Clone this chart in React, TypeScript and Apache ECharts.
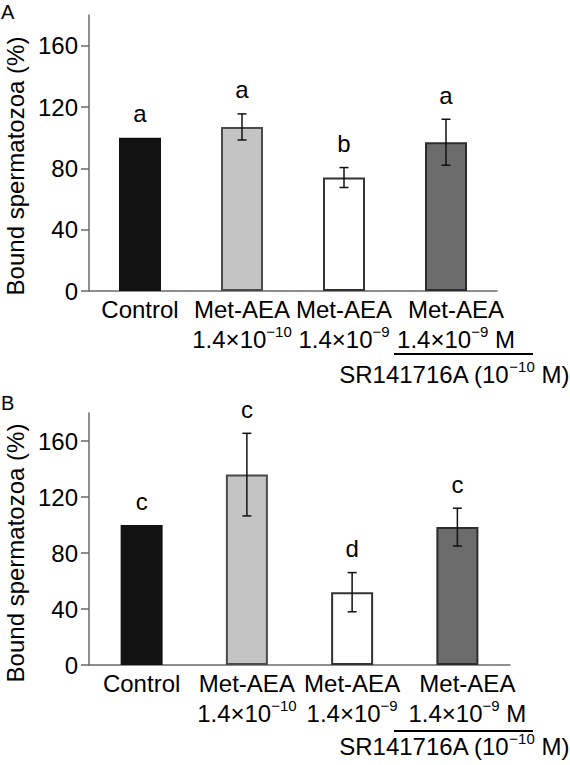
import React, { useEffect, useRef } from 'react';
import * as echarts from 'echarts';

// categories shared by both panels
const categories = ['Control', 'Met-AEA 1.4×10−10', 'Met-AEA 1.4×10−9', 'Met-AEA 1.4×10−9 M + SR'];
const xLabels = [
  'Control',
  'Met-AEA\n{n|1.4×10}{sup|−10}',
  'Met-AEA\n{n|1.4×10}{sup|−9}',
  'Met-AEA\n{n|1.4×10}{sup|−9}{n| M}',
];

// panel A
const meansA = [100, 107, 74, 97];
const errA = [0, 8.5, 6.5, 15];
const lettersA = ['a', 'a', 'b', 'a'];

// panel B
const meansB = [100, 136, 52, 98.5];
const errB = [0, 29.5, 14, 13.5];
const lettersB = ['c', 'c', 'd', 'c'];

const yTicks = [0, 40, 80, 120, 160];

const FONT = '"Liberation Sans", Arial, Helvetica, sans-serif';
const FS = 24;
const fills = ['#121212', '#c4c4c4', '#ffffff', '#6c6c6c'];
const borders = ['#121212', '#4a4a4a', '#333333', '#2c2c2c'];

const richStyles = {
  n: { fontSize: FS, lineHeight: 30, color: '#000', fontFamily: FONT },
  sup: { fontSize: 15, lineHeight: 15, verticalAlign: 'top', color: '#000', fontFamily: FONT },
};

const App: React.FC = () => {
  const chartRef = useRef<HTMLDivElement>(null);

  useEffect(() => {
    if (!chartRef.current) return;
    const chart = echarts.init(chartRef.current, undefined, { renderer: 'svg' });

    const makeX = (gridIndex: number) => ({
      type: 'category',
      gridIndex,
      data: categories.map((c, i) =>
        i === 3 ? { value: c, textStyle: { padding: [0, 0, 0, 20] } } : c
      ),
      axisLine: { lineStyle: { color: '#6a6a6a', width: 1.5 } },
      axisTick: { show: false },
      axisLabel: {
        interval: 0,
        margin: 3,
        fontSize: FS,
        lineHeight: 30,
        color: '#000',
        fontFamily: FONT,
        formatter: (_v: string, i: number) => xLabels[i],
        rich: richStyles,
      },
    });

    const makeY = (gridIndex: number) => ({
      type: 'value',
      gridIndex,
      min: 0,
      max: 180,
      interval: 40,
      axisLine: { show: true, lineStyle: { color: '#6a6a6a', width: 1.5 } },
      axisTick: { show: true, length: 8, customValues: yTicks, lineStyle: { color: '#6a6a6a', width: 1.5 } },
      axisLabel: { customValues: yTicks, margin: 11, fontSize: FS, color: '#000', fontFamily: FONT },
      splitLine: { show: false },
    });

    const barSeries = (idx: number, means: number[]) => ({
      type: 'bar',
      xAxisIndex: idx,
      yAxisIndex: idx,
      barWidth: 42,
      data: means.map((v, i) => ({
        value: v,
        itemStyle: { color: fills[i], borderColor: borders[i], borderWidth: i === 0 ? 0 : 2 },
      })),
    });

    const errSeries = (idx: number, means: number[], errs: number[], letters: string[]) => ({
      type: 'custom',
      xAxisIndex: idx,
      yAxisIndex: idx,
      z: 5,
      data: means.map((m, i) => [i, m, errs[i]]),
      renderItem: (params: any, api: any) => {
        const i = api.value(0);
        const m = api.value(1);
        const e = api.value(2);
        const top = api.coord([i, m + e]);
        const bot = api.coord([i, m - e]);
        const style = { stroke: '#111', lineWidth: 1.5 };
        const children: any[] = [];
        if (e > 0) {
          children.push(
            { type: 'line', shape: { x1: top[0], y1: top[1], x2: bot[0], y2: bot[1] }, style },
            { type: 'line', shape: { x1: top[0] - 4.5, y1: top[1], x2: top[0] + 4.5, y2: top[1] }, style },
            { type: 'line', shape: { x1: bot[0] - 4.5, y1: bot[1], x2: bot[0] + 4.5, y2: bot[1] }, style }
          );
        }
        children.push({
          type: 'text',
          x: top[0],
          y: top[1] - 24,
          style: {
            text: letters[params.dataIndex],
            fill: '#000',
            font: `${FS}px ${FONT}`,
            align: 'center',
            verticalAlign: 'middle',
          },
        });
        return { type: 'group', children };
      },
    });

    const panelGraphics = (letter: string, top: number, axisMid: number, lineY: number, srY: number) => [
      {
        type: 'text',
        left: 1,
        top,
        style: { text: letter, fill: '#000', font: `20px ${FONT}` },
      },
      {
        type: 'text',
        x: 15,
        y: axisMid,
        rotation: Math.PI / 2,
        style: {
          text: 'Bound spermatozoa (%)',
          fill: '#000',
          font: `${FS}px ${FONT}`,
          align: 'center',
          verticalAlign: 'middle',
        },
      },
      {
        type: 'line',
        shape: { x1: 394, y1: lineY, x2: 533, y2: lineY },
        style: { stroke: '#000', lineWidth: 2 },
      },
      {
        type: 'text',
        x: 454,
        y: srY,
        style: {
          text: '{n|SR141716A (10}{sup|−10}{n| M)}',
          rich: richStyles,
          align: 'center',
          verticalAlign: 'middle',
        },
      },
    ];

    chart.setOption({
      animation: false,
      textStyle: { fontFamily: FONT },
      grid: [
        { left: 89, top: 15, width: 408, height: 276 },
        { left: 89, top: 413, width: 421, height: 252 },
      ],
      xAxis: [makeX(0), makeX(1)],
      yAxis: [makeY(0), makeY(1)],
      series: [
        barSeries(0, meansA),
        errSeries(0, meansA, errA, lettersA),
        barSeries(1, meansB),
        errSeries(1, meansB, errB, lettersB),
      ],
      graphic: [
        ...panelGraphics('A', 2, 166, 354, 374),
        ...panelGraphics('B', 393, 553, 731, 746),
      ],
    });

    return () => {
      chart.dispose();
    };
  }, []);

  return (
    <div
      ref={chartRef}
      style={{ position: 'absolute', left: 0, top: 0, width: 570, height: 765, background: '#fff' }}
    />
  );
};

export default App;
